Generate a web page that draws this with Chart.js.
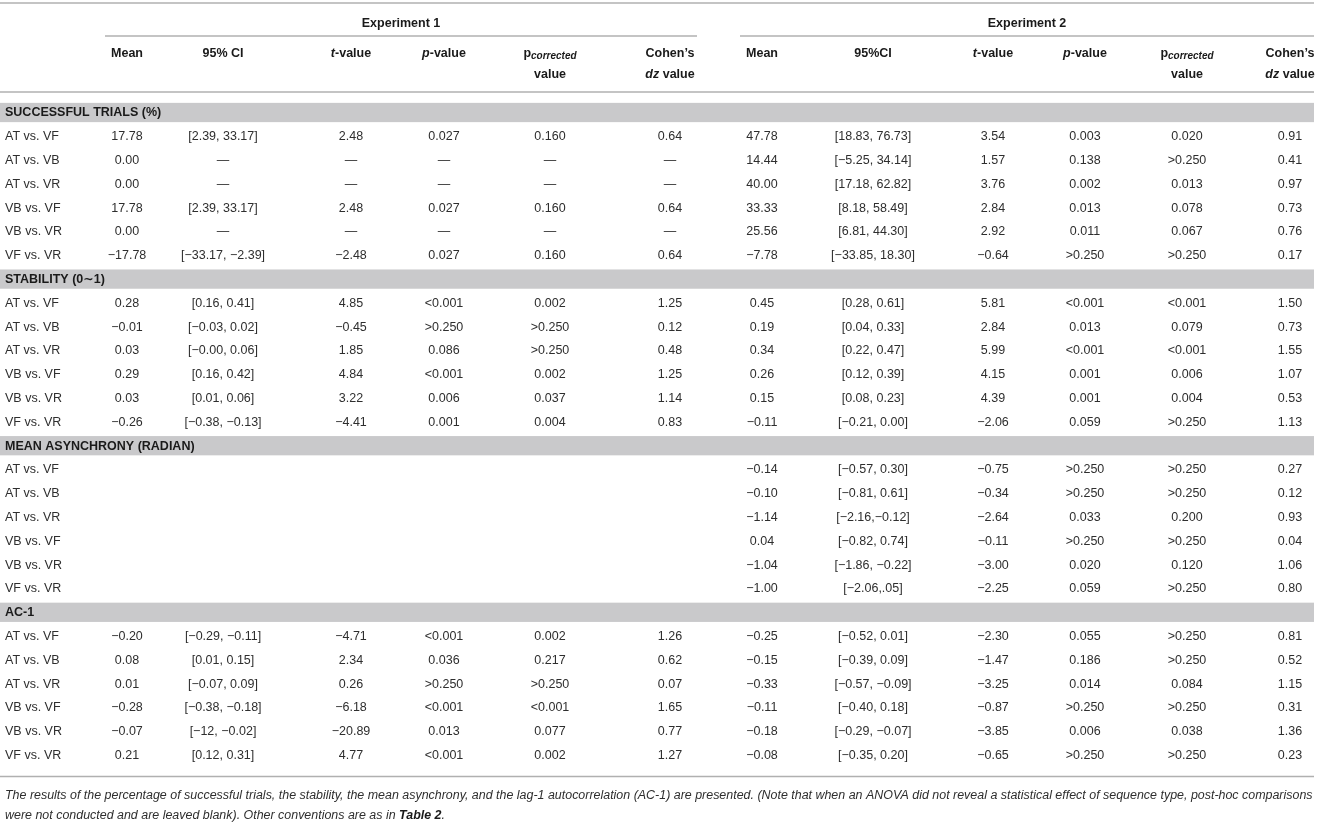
<!DOCTYPE html>
<html>
<head>
<meta charset="utf-8">
<script src="https://cdn.jsdelivr.net/npm/chart.js@4.4.1/dist/chart.umd.min.js"></script>
<style>
  html, body { margin: 0; padding: 0; background: #ffffff; }
  #wrap { width: 1317px; height: 825px; position: relative; }
</style>
</head>
<body>
<div id="wrap"><canvas id="c"></canvas></div>
<script>
// ---------------- DATA ----------------
const experiments = ['Experiment 1', 'Experiment 2'];
const sections = ['SUCCESSFUL TRIALS (%)', 'STABILITY (0\u223C1)', 'MEAN ASYNCHRONY (RADIAN)', 'AC-1'];
const comparisons = ['AT vs. VF', 'AT vs. VB', 'AT vs. VR', 'VB vs. VF', 'VB vs. VR', 'VF vs. VR'];
const ciHeads = ['95% CI', '95%CI'];

const successExp1 = [
  ['17.78', '[2.39, 33.17]', '2.48', '0.027', '0.160', '0.64'],
  ['0.00', '\u2014', '\u2014', '\u2014', '\u2014', '\u2014'],
  ['0.00', '\u2014', '\u2014', '\u2014', '\u2014', '\u2014'],
  ['17.78', '[2.39, 33.17]', '2.48', '0.027', '0.160', '0.64'],
  ['0.00', '\u2014', '\u2014', '\u2014', '\u2014', '\u2014'],
  ['\u221217.78', '[\u221233.17, \u22122.39]', '\u22122.48', '0.027', '0.160', '0.64']
];
const successExp2 = [
  ['47.78', '[18.83, 76.73]', '3.54', '0.003', '0.020', '0.91'],
  ['14.44', '[\u22125.25, 34.14]', '1.57', '0.138', '>0.250', '0.41'],
  ['40.00', '[17.18, 62.82]', '3.76', '0.002', '0.013', '0.97'],
  ['33.33', '[8.18, 58.49]', '2.84', '0.013', '0.078', '0.73'],
  ['25.56', '[6.81, 44.30]', '2.92', '0.011', '0.067', '0.76'],
  ['\u22127.78', '[\u221233.85, 18.30]', '\u22120.64', '>0.250', '>0.250', '0.17']
];
const stabilityExp1 = [
  ['0.28', '[0.16, 0.41]', '4.85', '<0.001', '0.002', '1.25'],
  ['\u22120.01', '[\u22120.03, 0.02]', '\u22120.45', '>0.250', '>0.250', '0.12'],
  ['0.03', '[\u22120.00, 0.06]', '1.85', '0.086', '>0.250', '0.48'],
  ['0.29', '[0.16, 0.42]', '4.84', '<0.001', '0.002', '1.25'],
  ['0.03', '[0.01, 0.06]', '3.22', '0.006', '0.037', '1.14'],
  ['\u22120.26', '[\u22120.38, \u22120.13]', '\u22124.41', '0.001', '0.004', '0.83']
];
const stabilityExp2 = [
  ['0.45', '[0.28, 0.61]', '5.81', '<0.001', '<0.001', '1.50'],
  ['0.19', '[0.04, 0.33]', '2.84', '0.013', '0.079', '0.73'],
  ['0.34', '[0.22, 0.47]', '5.99', '<0.001', '<0.001', '1.55'],
  ['0.26', '[0.12, 0.39]', '4.15', '0.001', '0.006', '1.07'],
  ['0.15', '[0.08, 0.23]', '4.39', '0.001', '0.004', '0.53'],
  ['\u22120.11', '[\u22120.21, 0.00]', '\u22122.06', '0.059', '>0.250', '1.13']
];
const asynchronyExp1 = [
  ['', '', '', '', '', ''],
  ['', '', '', '', '', ''],
  ['', '', '', '', '', ''],
  ['', '', '', '', '', ''],
  ['', '', '', '', '', ''],
  ['', '', '', '', '', '']
];
const asynchronyExp2 = [
  ['\u22120.14', '[\u22120.57, 0.30]', '\u22120.75', '>0.250', '>0.250', '0.27'],
  ['\u22120.10', '[\u22120.81, 0.61]', '\u22120.34', '>0.250', '>0.250', '0.12'],
  ['\u22121.14', '[\u22122.16,\u22120.12]', '\u22122.64', '0.033', '0.200', '0.93'],
  ['0.04', '[\u22120.82, 0.74]', '\u22120.11', '>0.250', '>0.250', '0.04'],
  ['\u22121.04', '[\u22121.86, \u22120.22]', '\u22123.00', '0.020', '0.120', '1.06'],
  ['\u22121.00', '[\u22122.06,.05]', '\u22122.25', '0.059', '>0.250', '0.80']
];
const ac1Exp1 = [
  ['\u22120.20', '[\u22120.29, \u22120.11]', '\u22124.71', '<0.001', '0.002', '1.26'],
  ['0.08', '[0.01, 0.15]', '2.34', '0.036', '0.217', '0.62'],
  ['0.01', '[\u22120.07, 0.09]', '0.26', '>0.250', '>0.250', '0.07'],
  ['\u22120.28', '[\u22120.38, \u22120.18]', '\u22126.18', '<0.001', '<0.001', '1.65'],
  ['\u22120.07', '[\u221212, \u22120.02]', '\u221220.89', '0.013', '0.077', '0.77'],
  ['0.21', '[0.12, 0.31]', '4.77', '<0.001', '0.002', '1.27']
];
const ac1Exp2 = [
  ['\u22120.25', '[\u22120.52, 0.01]', '\u22122.30', '0.055', '>0.250', '0.81'],
  ['\u22120.15', '[\u22120.39, 0.09]', '\u22121.47', '0.186', '>0.250', '0.52'],
  ['\u22120.33', '[\u22120.57, \u22120.09]', '\u22123.25', '0.014', '0.084', '1.15'],
  ['\u22120.11', '[\u22120.40, 0.18]', '\u22120.87', '>0.250', '>0.250', '0.31'],
  ['\u22120.18', '[\u22120.29, \u22120.07]', '\u22123.85', '0.006', '0.038', '1.36'],
  ['\u22120.08', '[\u22120.35, 0.20]', '\u22120.65', '>0.250', '>0.250', '0.23']
];
const footnoteLine1 = 'The results of the percentage of successful trials, the stability, the mean asynchrony, and the lag-1 autocorrelation (AC-1) are presented. (Note that when an ANOVA did not reveal a statistical effect of sequence type, post-hoc comparisons';
const footnoteLine2a = 'were not conducted and are leaved blank). Other conventions are as in ';
const footnoteLine2b = 'Table 2';
const footnoteLine2c = '.';

// ---------------- LAYOUT / STYLE ----------------
const W = 1317, H = 825;
const FONT = '"Liberation Sans", Arial, "DejaVu Sans", sans-serif';
const TXT = '#2e2e2e';
const HEAD = '#1a1a1a';
const BAND = '#c9c9cb';
const RULE = '#b0b0b0';
const labelX = 5;
const rightEdge = 1314;
const colX = [[127, 223, 351, 444, 550, 670], [762, 873, 993, 1085, 1187, 1290]];
const expLine = [[105, 697], [740, 1314]];
const rowPx0 = 112.5, rowPx = 23.8;                       // row index -> pixel mapping of the y scale
const yMin = -rowPx0 / rowPx, yMax = (H - rowPx0) / rowPx;
const pxRow = p => (p - rowPx0) / rowPx;                  // helper for header furniture rows

const sectionData = [
  [successExp1, successExp2],
  [stabilityExp1, stabilityExp2],
  [asynchronyExp1, asynchronyExp2],
  [ac1Exp1, ac1Exp2]
];

// ---------------- DATASETS ----------------
const datasets = [];
{
  const pts = [], texts = [];
  sections.forEach((s, si) => comparisons.forEach((c, ri) => {
    pts.push({ x: labelX, y: si * 7 + 1 + ri }); texts.push(c);
  }));
  datasets.push({ label: 'comparison', data: pts, texts, align: 'left', bold: false });
}
{
  const pts = sections.map((s, si) => ({ x: labelX, y: si * 7 }));
  datasets.push({ label: 'section', data: pts, texts: sections.slice(), align: 'left', bold: true });
}
for (let e = 0; e < 2; e++) {
  for (let c = 0; c < 6; c++) {
    const pts = [], texts = [];
    sectionData.forEach((pair, si) => {
      pair[e].forEach((row, ri) => {
        pts.push({ x: colX[e][c], y: si * 7 + 1 + ri });
        texts.push(row[c]);
      });
    });
    datasets.push({ label: experiments[e] + ' col ' + c, data: pts, texts, align: 'center', bold: false });
  }
}
datasets.forEach(d => { d.pointRadius = 0; d.pointHoverRadius = 0; d.showLine = false; });

// ---------------- DRAWING HELPERS ----------------
function runsWidth(ctx, runs) {
  let w = 0;
  runs.forEach(r => { ctx.font = r.font; w += ctx.measureText(r.t).width; });
  return w;
}
function drawRuns(ctx, runs, x, y, align) {
  const w = runsWidth(ctx, runs);
  let cx = align === 'center' ? x - w / 2 : align === 'right' ? x - w : x;
  ctx.textAlign = 'left';
  ctx.textBaseline = 'alphabetic';
  runs.forEach(r => {
    ctx.font = r.font;
    ctx.fillStyle = r.color || HEAD;
    ctx.fillText(r.t, cx, y + (r.dy || 0));
    cx += ctx.measureText(r.t).width;
  });
}
const B = '700 12.5px ' + FONT;
const BI = 'italic 700 12.5px ' + FONT;
const BIs = 'italic 700 10px ' + FONT;

const tablePlugin = {
  id: 'tablePlugin',
  beforeDatasetsDraw(chart) {
    const ctx = chart.ctx;
    const xs = chart.scales.x, ys = chart.scales.y;
    ctx.save();
    ctx.fillStyle = BAND;
    sections.forEach((s, si) => {
      const top = ys.getPixelForValue(si * 7 - 0.405);
      const bot = ys.getPixelForValue(si * 7 + 0.405);
      ctx.fillRect(xs.getPixelForValue(0), top, xs.getPixelForValue(rightEdge) - xs.getPixelForValue(0), bot - top);
    });
    ctx.strokeStyle = RULE;
    ctx.lineWidth = 1.4;
    const hline = (x0, x1, r) => {
      const y = ys.getPixelForValue(r);
      ctx.beginPath();
      ctx.moveTo(xs.getPixelForValue(x0), y);
      ctx.lineTo(xs.getPixelForValue(x1), y);
      ctx.stroke();
    };
    hline(0, rightEdge, pxRow(3));
    expLine.forEach(l => hline(l[0], l[1], pxRow(36)));
    hline(0, rightEdge, pxRow(92));
    hline(0, rightEdge, pxRow(776.5));

    experiments.forEach((t, e) => {
      const cx = xs.getPixelForValue((expLine[e][0] + expLine[e][1]) / 2);
      drawRuns(ctx, [{ t, font: B }], cx, ys.getPixelForValue(pxRow(27)), 'center');
    });
    for (let e = 0; e < 2; e++) {
      const px = c => xs.getPixelForValue(colX[e][c]);
      const y1 = ys.getPixelForValue(pxRow(57)), y2 = ys.getPixelForValue(pxRow(78));
      drawRuns(ctx, [{ t: 'Mean', font: B }], px(0), y1, 'center');
      drawRuns(ctx, [{ t: ciHeads[e], font: B }], px(1), y1, 'center');
      drawRuns(ctx, [{ t: 't', font: BI }, { t: '-value', font: B }], px(2), y1, 'center');
      drawRuns(ctx, [{ t: 'p', font: BI }, { t: '-value', font: B }], px(3), y1, 'center');
      drawRuns(ctx, [{ t: 'p', font: B }, { t: 'corrected', font: BIs, dy: 2 }], px(4), y1, 'center');
      drawRuns(ctx, [{ t: 'value', font: B }], px(4), y2, 'center');
      drawRuns(ctx, [{ t: 'Cohen\u2019s', font: B }], px(5), y1, 'center');
      drawRuns(ctx, [{ t: 'dz', font: BI }, { t: ' value', font: B }], px(5), y2, 'center');
    }

    const fy1 = ys.getPixelForValue(pxRow(799)), fy2 = ys.getPixelForValue(pxRow(819));
    let fs = 12;
    ctx.font = 'italic 400 ' + fs + 'px ' + FONT;
    const avail = xs.getPixelForValue(rightEdge) - xs.getPixelForValue(labelX);
    const w1 = ctx.measureText(footnoteLine1).width;
    fs = fs * avail / w1;
    const FI = 'italic 400 ' + fs.toFixed(2) + 'px ' + FONT;
    const FBI = 'italic 700 ' + fs.toFixed(2) + 'px ' + FONT;
    drawRuns(ctx, [{ t: footnoteLine1, font: FI, color: TXT }], xs.getPixelForValue(labelX), fy1, 'left');
    drawRuns(ctx, [{ t: footnoteLine2a, font: FI, color: TXT }, { t: footnoteLine2b, font: FBI, color: HEAD }, { t: footnoteLine2c, font: FI, color: TXT }], xs.getPixelForValue(labelX), fy2, 'left');
    ctx.restore();
  },
  afterDatasetsDraw(chart) {
    const ctx = chart.ctx;
    ctx.save();
    ctx.textBaseline = 'middle';
    chart.data.datasets.forEach((ds, di) => {
      const meta = chart.getDatasetMeta(di);
      ctx.font = (ds.bold ? '700 ' : '400 ') + '12.5px ' + FONT;
      ctx.fillStyle = ds.bold ? HEAD : TXT;
      ctx.textAlign = ds.align;
      meta.data.forEach((el, i) => {
        const t = ds.texts[i];
        if (t) ctx.fillText(t, el.x, el.y + 0.5);
      });
    });
    ctx.restore();
  }
};

const canvas = document.getElementById('c');
new Chart(canvas, {
  type: 'scatter',
  data: { datasets },
  options: {
    responsive: true,
    maintainAspectRatio: false,
    animation: false,
    events: [],
    layout: { padding: 0 },
    plugins: { legend: { display: false }, tooltip: { enabled: false }, title: { display: false } },
    scales: {
      x: { type: 'linear', min: 0, max: W, display: false },
      y: { type: 'linear', min: yMin, max: yMax, reverse: true, display: false }
    }
  },
  plugins: [tablePlugin]
});
</script>
</body>
</html>
